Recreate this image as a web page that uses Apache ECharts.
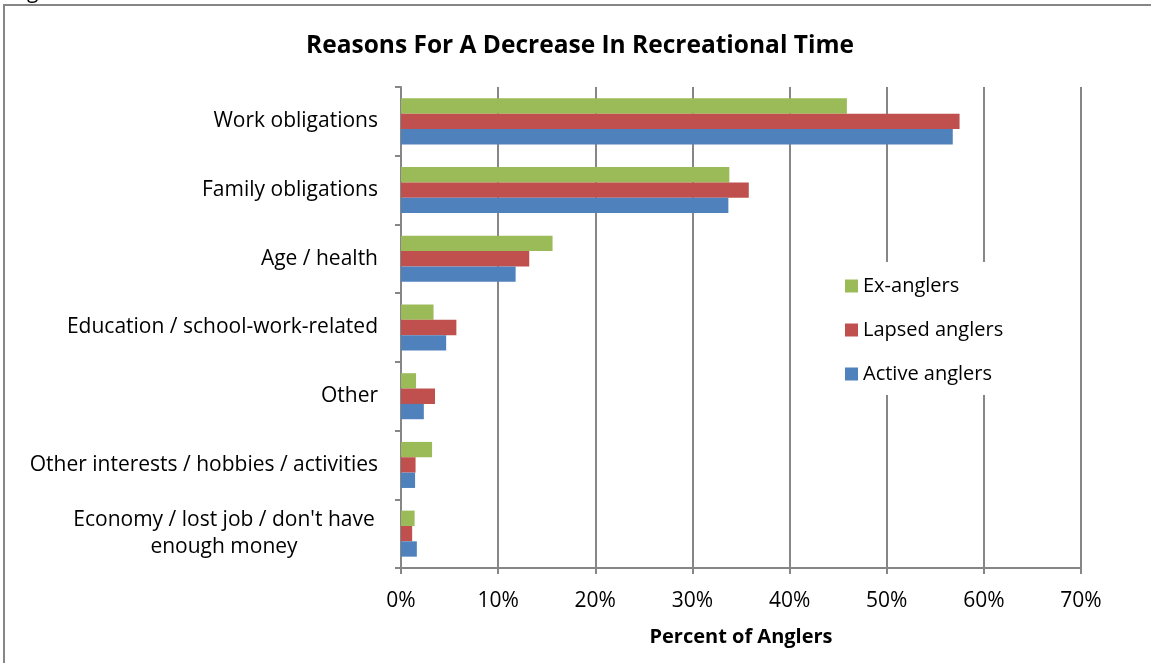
<!DOCTYPE html>
<html>
<head>
<meta charset="utf-8">
<script src="https://cdn.jsdelivr.net/npm/echarts@6/dist/echarts.min.js"></script>
<style>
html,body{margin:0;padding:0;background:#fff;}
#chart{width:1151px;height:663px;}
</style>
</head>
<body>
<div id="chart"></div>
<script>
var categories = [
  "Work obligations",
  "Family obligations",
  "Age / health",
  "Education / school-work-related",
  "Other",
  "Other interests / hobbies / activities",
  "Economy / lost job / don't have\nenough money"
];
var exAnglers     = [45.9, 33.8, 15.6, 3.35, 1.55, 3.2, 1.4];
var lapsedAnglers = [57.5, 35.8, 13.2, 5.7, 3.5, 1.5, 1.15];
var activeAnglers = [56.8, 33.7, 11.8, 4.65, 2.35, 1.45, 1.63];
var xTicks = [0, 10, 20, 30, 40, 50, 60, 70];

var FONT = "Open Sans";
var chart = echarts.init(document.getElementById('chart'), null, {renderer: 'canvas'});
var option = {
  backgroundColor: '#ffffff',
  animation: false,
  title: {
    text: 'Reasons For A Decrease In Recreational Time',
    left: 575, top: 29, textAlign: 'center',
    textStyle: {fontFamily: FONT, fontWeight: 'bold', fontSize: 24.5, color: '#000'}
  },
  graphic: [
    {type: 'rect', shape: {x: 4, y: 5, width: 1200, height: 700}, style: {fill: 'none', stroke: '#868686', lineWidth: 2}, silent: true, z: -1},
    {type: 'text', left: 27, top: -18, style: {text: 'g', font: '21px ' + FONT, fill: '#000'}}
  ],
  legend: {
    orient: 'vertical', left: 837, top: 262,
    padding: [14, 8, 11, 8],
    backgroundColor: '#ffffff',
    itemWidth: 13, itemHeight: 13, itemGap: 24,
    icon: 'rect',
    textStyle: {fontFamily: FONT, fontSize: 20, color: '#000'},
    data: ['Ex-anglers', 'Lapsed anglers', 'Active anglers']
  },
  grid: {left: 401, right: 70, top: 87, bottom: 95, containLabel: false},
  xAxis: {
    type: 'value', min: 0, max: 70, interval: 10,
    name: 'Percent of Anglers', nameLocation: 'middle', nameGap: 59,
    nameTextStyle: {fontFamily: FONT, fontWeight: 'bold', fontSize: 20, color: '#000'},
    axisLine: {show: true, lineStyle: {color: '#868686', width: 2}},
    axisTick: {show: true, length: 6, lineStyle: {color: '#868686', width: 2}},
    axisLabel: {margin: 23, fontFamily: FONT, fontSize: 21, color: '#000', formatter: function(v){ return v + '%'; }},
    splitLine: {show: true, lineStyle: {color: '#868686', width: 2}}
  },
  yAxis: {
    type: 'category', inverse: true, data: categories,
    axisLine: {show: true, lineStyle: {color: '#868686', width: 2}},
    axisTick: {show: true, length: 6, alignWithLabel: false, lineStyle: {color: '#868686', width: 2}},
    axisLabel: {
      margin: 23, fontFamily: FONT, fontSize: 21, color: '#000', lineHeight: 27,
      formatter: function(v){
        if (v.indexOf('\n') >= 0) return '{c|' + v + '}';
        return v;
      },
      rich: {c: {align: 'center', width: 308, fontFamily: FONT, fontSize: 21, lineHeight: 27, color: '#000'}}
    },
    splitLine: {show: false}
  },
  series: [
    {name: 'Ex-anglers', type: 'bar', data: exAnglers, barGap: '0%', barCategoryGap: '33%',
     itemStyle: {color: '#9BBB59'}},
    {name: 'Lapsed anglers', type: 'bar', data: lapsedAnglers, barGap: '0%', barCategoryGap: '33%',
     itemStyle: {color: '#C0504D'}},
    {name: 'Active anglers', type: 'bar', data: activeAnglers, barGap: '0%', barCategoryGap: '33%',
     itemStyle: {color: '#4F81BD'}}
  ]
};
chart.setOption(option);
</script>
</body>
</html>
